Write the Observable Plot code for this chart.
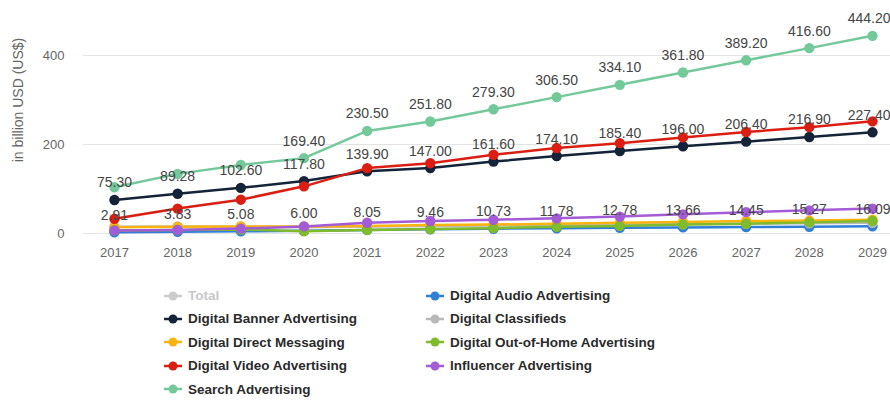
<!DOCTYPE html>
<html>
<head>
<meta charset="utf-8">
<script src="https://cdn.jsdelivr.net/npm/d3@7"></script>
<script src="https://cdn.jsdelivr.net/npm/@observablehq/plot@0.6"></script>
<style>
  html, body { margin: 0; padding: 0; background: #fff; }
  #wrap { position: relative; width: 890px; height: 401px; font-family: "Liberation Sans", Arial, Helvetica, sans-serif; overflow: hidden; }
  #chart { position: absolute; left: 0; top: 0; }
  #ytitle { position: absolute; left: 18px; top: 100px; transform: translate(-50%, -50%) rotate(-90deg); font-size: 14px; color: #666; white-space: nowrap; }
  .item { position: absolute; display: flex; align-items: center; font-size: 13.5px; font-weight: bold; color: #2b2b2b; white-space: nowrap; }
  .item svg { margin-right: 6px; }
  .item.off { color: #c8c8c8; }
</style>
</head>
<body>
<div id="wrap">
  <div id="chart"></div>
  <div id="ytitle">in billion USD (US$)</div>
  <div id="legend"></div>
</div>
<script>
// Ad spending by segment, in billion USD
const years = [2017, 2018, 2019, 2020, 2021, 2022, 2023, 2024, 2025, 2026, 2027, 2028, 2029];

const digitalAudio      = [2.91, 3.83, 5.08, 6.00, 8.05, 9.46, 10.73, 11.78, 12.78, 13.66, 14.45, 15.27, 16.09];
const digitalBanner     = [75.30, 89.28, 102.60, 117.80, 139.90, 147.00, 161.60, 174.10, 185.40, 196.00, 206.40, 216.90, 227.40];
const digitalClassified = [15, 16, 16, 14, 16, 17, 18, 19, 20, 21, 22, 23, 24];
const digitalDirect     = [14, 15, 16, 16, 17, 19, 20, 22, 24, 26, 28, 29, 31];
const digitalOOH        = [7, 8, 9, 5, 8, 10, 12, 15, 17, 20, 22, 25, 28];
const digitalVideo      = [33, 56, 76, 106, 147, 158, 177, 192, 203, 216, 228, 239, 252];
const influencer        = [7, 8, 11, 16, 24, 28, 31, 34, 38, 43, 48, 52, 56];
const searchAds         = [104, 134, 154, 169.40, 230.50, 251.80, 279.30, 306.50, 334.10, 361.80, 389.20, 416.60, 444.20];

const yTicks = [0, 200, 400];

// Series in drawing order (later ones sit on top)
const series = [
  {name: "Digital Audio Advertising",        color: "#2f7fd9", values: digitalAudio,      labels: years},
  {name: "Digital Banner Advertising",       color: "#142338", values: digitalBanner,     labels: years},
  {name: "Digital Classifieds",              color: "#b9b9b9", values: digitalClassified, labels: []},
  {name: "Digital Direct Messaging",         color: "#fbb40f", values: digitalDirect,     labels: []},
  {name: "Digital Out-of-Home Advertising",  color: "#80bb2b", values: digitalOOH,        labels: []},
  {name: "Digital Video Advertising",        color: "#db1e12", values: digitalVideo,      labels: []},
  {name: "Influencer Advertising",           color: "#a45bd6", values: influencer,        labels: []},
  {name: "Search Advertising",               color: "#74c99b", values: searchAds,         labels: years.filter(y => y >= 2020)}
];

const rows = series.flatMap(s => years.map((year, i) => ({series: s.name, year, value: s.values[i], labeled: s.labels.includes(year)})));
const lastYear = years[years.length - 1];
const labeledInner = rows.filter(d => d.labeled && d.year !== lastYear);
const labeledLast = rows.filter(d => d.labeled && d.year === lastYear);

const seriesMarks = series.flatMap(s => {
  const data = rows.filter(d => d.series === s.name);
  return [
    Plot.line(data, {x: "year", y: "value", stroke: s.color, strokeWidth: 2.5}),
    Plot.dot(data, {x: "year", y: "value", fill: s.color, r: 5.2})
  ];
});

const labelStyle = {x: "year", y: "value", text: d => d.value.toFixed(2), dy: -17, fontSize: 14, fill: "#454545"};

const chart = Plot.plot({
  width: 890,
  height: 268,
  marginTop: 0,
  marginLeft: 83,
  marginRight: 0,
  marginBottom: 35,
  style: {fontFamily: "Liberation Sans, Arial, sans-serif", background: "transparent"},
  x: {type: "linear", domain: [2016.51, 2029.285]},
  y: {domain: [0, 523.6]},
  marks: [
    Plot.ruleY(yTicks, {stroke: "#e3e3e3", strokeWidth: 1}),
    Plot.axisY(yTicks, {tickSize: 0, tickPadding: 19, fontSize: 13, fill: "#666", label: null}),
    Plot.axisX(years, {tickSize: 0, tickPadding: 14, fontSize: 13, fill: "#666", label: null, tickFormat: d => String(d)}),
    ...seriesMarks,
    Plot.text(labeledInner, labelStyle),
    // last column kept inside the plot's right edge
    Plot.text(labeledLast, {...labelStyle, textAnchor: "end", dx: 18})
  ]
});
document.getElementById("chart").appendChild(chart);

// Legend: two columns, "Total" shown as a hidden series
const legendItems = [
  {name: "Total", color: "#cccccc", off: true, col: 0, row: 0},
  {name: "Digital Banner Advertising", col: 0, row: 1},
  {name: "Digital Direct Messaging", col: 0, row: 2},
  {name: "Digital Video Advertising", col: 0, row: 3},
  {name: "Search Advertising", col: 0, row: 4},
  {name: "Digital Audio Advertising", col: 1, row: 0},
  {name: "Digital Classifieds", col: 1, row: 1},
  {name: "Digital Out-of-Home Advertising", col: 1, row: 2},
  {name: "Influencer Advertising", col: 1, row: 3}
];
const colX = [164, 426];
const legend = document.getElementById("legend");
for (const it of legendItems) {
  const color = it.color || series.find(s => s.name === it.name).color;
  const el = document.createElement("div");
  el.className = "item" + (it.off ? " off" : "");
  el.style.left = colX[it.col] + "px";
  el.style.top = (288 + it.row * 23.4) + "px";
  el.innerHTML = `<svg width="18" height="12"><line x1="0" x2="18" y1="6" y2="6" stroke="${color}" stroke-width="2.5"/><circle cx="9" cy="6" r="4.5" fill="${color}"/></svg><span>${it.name}</span>`;
  legend.appendChild(el);
}
</script>
</body>
</html>
